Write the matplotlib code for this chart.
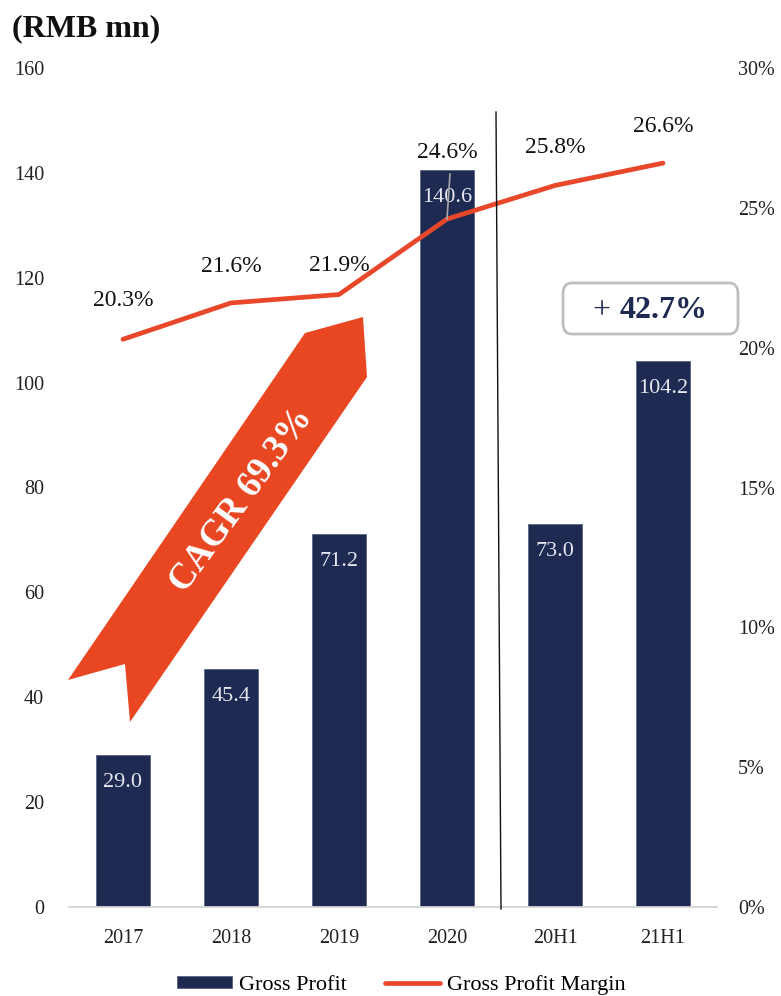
import matplotlib
matplotlib.use("Agg")
import matplotlib.pyplot as plt
from matplotlib.patches import Polygon, FancyBboxPatch
from matplotlib.lines import Line2D

plt.rcParams["font.family"] = ["Liberation Serif", "DejaVu Serif"]

# ---- data ----
periods = ["2017", "2018", "2019", "2020", "20H1", "21H1"]
gross_profit = [29.0, 45.4, 71.2, 140.6, 73.0, 104.2]          # RMB mn
gross_margin = [20.3, 21.6, 21.9, 24.6, 25.8, 26.6]            # %
margin_label_offset = [28, 26, 21, 48, 27, 26]                  # points above the line
left_ticks = [0, 20, 40, 60, 80, 100, 120, 140, 160]
right_ticks = [0, 5, 10, 15, 20, 25, 30]
cagr_text = "CAGR 69.3%"
growth_sign = "+ "
growth_value = "42.7%"

NAVY = "#1E2A52"
ORANGE = "#E8472A"

W, H = 781, 996
fig = plt.figure(figsize=(W / 100, H / 100), dpi=100)


def fx(px):
    return px / W


def fy(py):
    return (H - py) / H


ax = fig.add_axes([fx(69), fy(907), (717 - 69) / W, (907 - 68) / H])
ax2 = ax.twinx()

x = list(range(len(periods)))
bars = ax.bar(x, gross_profit, width=0.5, color=NAVY, edgecolor="#5A6482",
              linewidth=0.6, zorder=2)
ax.set_xlim(-0.5, len(periods) - 0.5)
ax.set_ylim(0, 160)
ax.set_yticks(left_ticks)
ax.set_xticks(x)
ax.set_xticklabels(periods)
ax.tick_params(axis="x", length=0, pad=16, labelsize=14.5, colors="#222222")
ax.tick_params(axis="y", length=0, pad=18, labelsize=14.5, colors="#222222")

for b, v in zip(bars, gross_profit):
    ax.annotate(f"{v:.1f}", (b.get_x() + b.get_width() / 2, v),
                xytext=(0, -20), textcoords="offset points",
                ha="center", va="center", fontsize=16, color="#E6E6EE",
                zorder=3)

ax2.plot(x, gross_margin, color=ORANGE, linewidth=3.4,
         solid_capstyle="round", solid_joinstyle="round", zorder=4)
ax2.set_ylim(0, 30)
ax2.set_yticks(right_ticks)
ax2.set_yticklabels([f"{t}%" for t in right_ticks])
ax2.tick_params(axis="y", length=0, pad=15, labelsize=14.5, colors="#222222")

for xi, m, off in zip(x, gross_margin, margin_label_offset):
    ax2.annotate(f"{m:.1f}%", (xi, m), xytext=(0, off),
                 textcoords="offset points", ha="center", va="center",
                 fontsize=17, color="#111111")

for a in (ax, ax2):
    for s in ("top", "left", "right"):
        a.spines[s].set_visible(False)
ax2.spines["bottom"].set_visible(False)
ax.spines["bottom"].set_color("#D4D4D4")
ax.spines["bottom"].set_linewidth(1.3)

# leader from the 2020 margin label down to its point
fig.add_artist(Line2D([fx(450), fx(447)], [fy(174), fy(219)],
                      color="#A6A6A6", linewidth=1.2, zorder=5))

# separator between full years and half years
fig.add_artist(Line2D([fx(496), fx(501)], [fy(112), fy(909)],
                      color="#111111", linewidth=1.0, zorder=5))

# CAGR banner arrow
arrow_px = [(68, 680), (125, 664), (130, 722), (367, 377), (363, 317), (305, 333)]
fig.add_artist(Polygon([(fx(a), fy(b)) for a, b in arrow_px], closed=True,
                       facecolor="#E84722", edgecolor="none", zorder=6))
fig.text(fx(242), fy(500), cagr_text, rotation=54, rotation_mode="anchor",
         ha="center", va="center", fontsize=26.5, fontweight="bold",
         color="white", zorder=7)

# growth badge
badge = FancyBboxPatch((fx(563), fy(334)), fx(738 - 563), (334 - 283) / H,
                       boxstyle="round,pad=0,rounding_size=0.011",
                       transform=fig.transFigure, facecolor="white",
                       edgecolor="#BFBFBF", linewidth=2.0, zorder=6)
fig.add_artist(badge)
t1 = fig.text(fx(593), fy(310), growth_sign, ha="left", va="center",
              fontsize=23, color=NAVY, zorder=7)
fig.canvas.draw()
bb = t1.get_window_extent()
fig.text(bb.x1 / W, fy(310), growth_value, ha="left", va="center",
         fontsize=23, fontweight="bold", color=NAVY, zorder=7)

# unit title
fig.text(fx(12), fy(29), "(RMB mn)", ha="left", va="center",
         fontsize=23, fontweight="bold", color="#111111")

# legend
handles = [bars, ax2.get_lines()[0]]
fig.legend(handles, ["Gross Profit", "Gross Profit Margin"],
           loc="center", bbox_to_anchor=(fx(401), fy(985)), ncol=2,
           frameon=False, fontsize=16, handlelength=2.5, handleheight=0.45,
           handletextpad=0.3, columnspacing=1.7)

fig.savefig("out.png", dpi=100)
